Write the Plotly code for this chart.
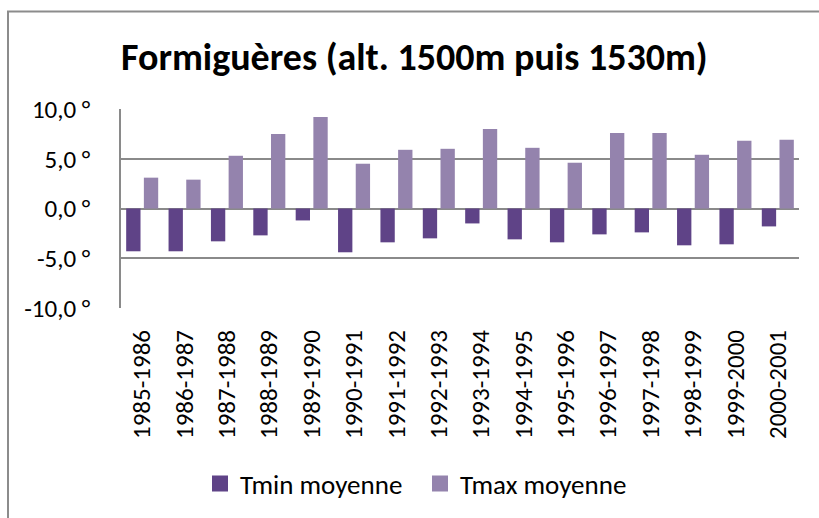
import plotly.graph_objects as go

# Mean winter temperatures at Formiguères, per season
seasons = ["1985-1986", "1986-1987", "1987-1988", "1988-1989", "1989-1990",
           "1990-1991", "1991-1992", "1992-1993", "1993-1994", "1994-1995",
           "1995-1996", "1996-1997", "1997-1998", "1998-1999", "1999-2000",
           "2000-2001"]
tmin = [-4.3, -4.3, -3.3, -2.7, -1.2, -4.4, -3.4, -3.0, -1.5, -3.1,
        -3.4, -2.6, -2.4, -3.7, -3.6, -1.8]
tmax = [3.1, 2.9, 5.3, 7.5, 9.2, 4.5, 5.9, 6.0, 8.0, 6.1,
        4.6, 7.6, 7.6, 5.4, 6.8, 6.9]
y_ticks = [-10, -5, 0, 5, 10]
y_labels = [f"{v:.1f}".replace(".", ",") + " °" for v in y_ticks]

FONT = "Carlito, Lato, sans-serif"
GRID = "#8a8a8a"
C_MIN = "#5f4387"
C_MAX = "#9483ad"

# plot area in pixels
W, H = 819, 518
L, R, T, B = 121, 20, 109, 209
PW, PH = W - L - R, H - T - B


def px_x(p):
    return (p - L) / PW


def px_y(p):
    return (H - B - p) / PH


fig = go.Figure()
fig.add_trace(go.Bar(name="Tmin moyenne", x=seasons, y=tmin, showlegend=False,
                     marker=dict(color=C_MIN, line=dict(width=0))))
fig.add_trace(go.Bar(name="Tmax moyenne", x=seasons, y=tmax, showlegend=False,
                     marker=dict(color=C_MAX, line=dict(width=0))))
# square legend keys
for name, col in (("Tmin moyenne", C_MIN), ("Tmax moyenne", C_MAX)):
    fig.add_trace(go.Scatter(name=name, x=[None], y=[None], mode="markers",
                             marker=dict(symbol="square", size=16, color=col),
                             showlegend=True))

fig.update_layout(
    width=W, height=H,
    margin=dict(l=L, r=R, t=T, b=B),
    paper_bgcolor="white", plot_bgcolor="white",
    barmode="group", bargap=0.165, bargroupgap=0.19,
    font=dict(family=FONT, size=24, color="black"),
    showlegend=True,
    legend=dict(orientation="h", x=px_x(420), xanchor="center",
                y=px_y(484), yanchor="middle",
                font=dict(family=FONT, size=27), itemwidth=30,
                entrywidth=175, entrywidthmode="pixels",
                traceorder="normal"),
    xaxis=dict(tickangle=-90, showgrid=False, showline=False,
               ticks="", tickfont=dict(family=FONT, size=25),
               ticklabelstandoff=16, fixedrange=True),
    yaxis=dict(range=[-10, 10], tickvals=y_ticks, ticktext=y_labels,
               showgrid=True, gridcolor=GRID, gridwidth=1.5,
               zeroline=True, zerolinecolor=GRID, zerolinewidth=1.5,
               showline=True, linecolor=GRID, linewidth=1.5,
               ticks="", ticklabelstandoff=24,
               tickfont=dict(family=FONT, size=25), fixedrange=True),
    annotations=[dict(text="<b>Formiguères (alt. 1500m puis 1530m)</b>",
                      xref="paper", yref="paper", x=px_x(414), y=px_y(57),
                      xanchor="center", yanchor="middle", showarrow=False,
                      font=dict(family=FONT, size=38, color="black"))],
    shapes=[dict(type="rect", xref="paper", yref="paper",
                 x0=px_x(8), x1=px_x(830), y0=px_y(540), y1=px_y(11),
                 line=dict(color="#8c8c8c", width=2), fillcolor="rgba(0,0,0,0)",
                 layer="below")],
)

fig.write_html("out.html")
